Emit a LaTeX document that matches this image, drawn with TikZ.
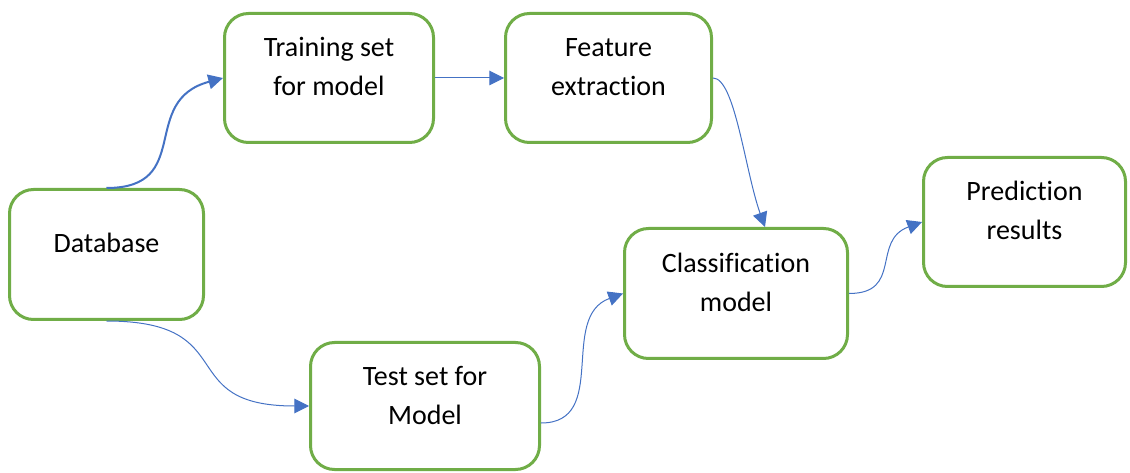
\documentclass[tikz,border=0pt]{standalone}
\usepackage{fontspec}
\setmainfont{Carlito}[Ligatures=NoCommon]
\usetikzlibrary{arrows.meta,calc}
\definecolor{boxgreen}{HTML}{70AD47}
\definecolor{linkblue}{HTML}{4472C4}

\begin{document}
\begin{tikzpicture}[x=0.75pt,y=-0.75pt,
	stage/.style={draw=boxgreen, line width=2.25pt, rounded corners=18pt, fill=white,
		font=\fontsize{21}{29.25}\selectfont, align=center, inner sep=0pt},
	oneline/.style={text height=15pt, text depth=17.25pt},
	twoline/.style={text height=44.25pt, text depth=17.25pt},
	link/.style={draw=linkblue, line width=0.75pt, -{Triangle[length=11pt,width=11pt]}}]
			%%%%% START %%%%%
			\useasboundingbox (0,0) rectangle (1130,473);
			
			\node[stage, oneline, minimum width=145.5pt, minimum height=97.5pt] (db) at (106.5,254.5) {Database};
			\node[stage, twoline, minimum width=156.75pt, minimum height=96.75pt] (train) at (329,78) {Training set\\for model};
			\node[stage, twoline, minimum width=154.5pt, minimum height=96.75pt] (feat) at (608.5,78) {Feature\\extraction};
			\node[stage, twoline, minimum width=167.25pt, minimum height=97.5pt] (cls) at (736,293.5) {Classification\\model};
			\node[stage, twoline, minimum width=151.5pt, minimum height=96.75pt] (pred) at (1024.5,222) {Prediction\\results};
			\node[stage, twoline, minimum width=171.75pt, minimum height=95.25pt] (test) at (425,406) {Test set for\\Model};
			
			\draw[link, line width=1.5pt] (db.north) to[out=0,in=195,looseness=1.4] (train.west);
			\draw[link] (train.east) -- (feat.west);
			\draw[link] (feat.east) .. controls +(22,0) and +(-20,-56) .. ($(cls.north)+(29,0)$);
			\draw[link] (db.south) to[out=0,in=180,looseness=1.6] (test.west);
			\draw[link] ($(test.east)+(0,17)$) to[out=0,in=200,looseness=1.15] (cls.west);
			\draw[link] (cls.east) to[out=0,in=200,looseness=1.35] (pred.west);
			
			%%%%% END %%%%%
\end{tikzpicture}
\end{document}
